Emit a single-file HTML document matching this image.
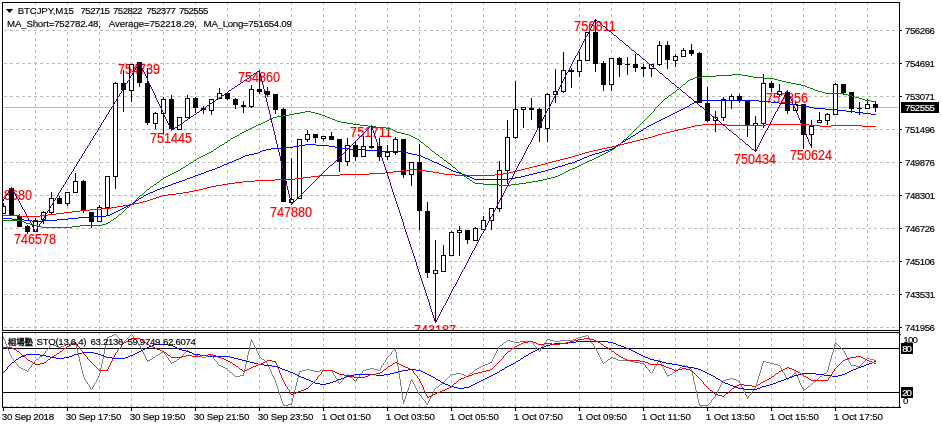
<!DOCTYPE html>
<html><head><meta charset="utf-8"><title>BTCJPY,M15</title>
<style>html,body{margin:0;padding:0;background:#fff;overflow:hidden}svg{display:block}</style>
</head><body>
<svg width="942" height="428" viewBox="0 0 942 428">
<defs><clipPath id="cm"><rect x="3" y="3" width="896" height="327"/></clipPath><clipPath id="ci"><rect x="3" y="333" width="896" height="74"/></clipPath></defs>
<rect width="942" height="428" fill="#fff"/>
<g shape-rendering="crispEdges" stroke="#bcbcbc" stroke-width="1" fill="none">
<line x1="35.5" y1="2" x2="35.5" y2="330" stroke-dasharray="3 3"/>
<line x1="35.5" y1="332" x2="35.5" y2="407" stroke-dasharray="3 3"/>
<line x1="67.5" y1="2" x2="67.5" y2="330" stroke-dasharray="3 3"/>
<line x1="67.5" y1="332" x2="67.5" y2="407" stroke-dasharray="3 3"/>
<line x1="99.5" y1="2" x2="99.5" y2="330" stroke-dasharray="3 3"/>
<line x1="99.5" y1="332" x2="99.5" y2="407" stroke-dasharray="3 3"/>
<line x1="131.5" y1="2" x2="131.5" y2="330" stroke-dasharray="3 3"/>
<line x1="131.5" y1="332" x2="131.5" y2="407" stroke-dasharray="3 3"/>
<line x1="163.5" y1="2" x2="163.5" y2="330" stroke-dasharray="3 3"/>
<line x1="163.5" y1="332" x2="163.5" y2="407" stroke-dasharray="3 3"/>
<line x1="195.5" y1="2" x2="195.5" y2="330" stroke-dasharray="3 3"/>
<line x1="195.5" y1="332" x2="195.5" y2="407" stroke-dasharray="3 3"/>
<line x1="227.5" y1="2" x2="227.5" y2="330" stroke-dasharray="3 3"/>
<line x1="227.5" y1="332" x2="227.5" y2="407" stroke-dasharray="3 3"/>
<line x1="259.5" y1="2" x2="259.5" y2="330" stroke-dasharray="3 3"/>
<line x1="259.5" y1="332" x2="259.5" y2="407" stroke-dasharray="3 3"/>
<line x1="291.5" y1="2" x2="291.5" y2="330" stroke-dasharray="3 3"/>
<line x1="291.5" y1="332" x2="291.5" y2="407" stroke-dasharray="3 3"/>
<line x1="323.5" y1="2" x2="323.5" y2="330" stroke-dasharray="3 3"/>
<line x1="323.5" y1="332" x2="323.5" y2="407" stroke-dasharray="3 3"/>
<line x1="355.5" y1="2" x2="355.5" y2="330" stroke-dasharray="3 3"/>
<line x1="355.5" y1="332" x2="355.5" y2="407" stroke-dasharray="3 3"/>
<line x1="387.5" y1="2" x2="387.5" y2="330" stroke-dasharray="3 3"/>
<line x1="387.5" y1="332" x2="387.5" y2="407" stroke-dasharray="3 3"/>
<line x1="419.5" y1="2" x2="419.5" y2="330" stroke-dasharray="3 3"/>
<line x1="419.5" y1="332" x2="419.5" y2="407" stroke-dasharray="3 3"/>
<line x1="451.5" y1="2" x2="451.5" y2="330" stroke-dasharray="3 3"/>
<line x1="451.5" y1="332" x2="451.5" y2="407" stroke-dasharray="3 3"/>
<line x1="483.5" y1="2" x2="483.5" y2="330" stroke-dasharray="3 3"/>
<line x1="483.5" y1="332" x2="483.5" y2="407" stroke-dasharray="3 3"/>
<line x1="515.5" y1="2" x2="515.5" y2="330" stroke-dasharray="3 3"/>
<line x1="515.5" y1="332" x2="515.5" y2="407" stroke-dasharray="3 3"/>
<line x1="547.5" y1="2" x2="547.5" y2="330" stroke-dasharray="3 3"/>
<line x1="547.5" y1="332" x2="547.5" y2="407" stroke-dasharray="3 3"/>
<line x1="579.5" y1="2" x2="579.5" y2="330" stroke-dasharray="3 3"/>
<line x1="579.5" y1="332" x2="579.5" y2="407" stroke-dasharray="3 3"/>
<line x1="611.5" y1="2" x2="611.5" y2="330" stroke-dasharray="3 3"/>
<line x1="611.5" y1="332" x2="611.5" y2="407" stroke-dasharray="3 3"/>
<line x1="643.5" y1="2" x2="643.5" y2="330" stroke-dasharray="3 3"/>
<line x1="643.5" y1="332" x2="643.5" y2="407" stroke-dasharray="3 3"/>
<line x1="675.5" y1="2" x2="675.5" y2="330" stroke-dasharray="3 3"/>
<line x1="675.5" y1="332" x2="675.5" y2="407" stroke-dasharray="3 3"/>
<line x1="707.5" y1="2" x2="707.5" y2="330" stroke-dasharray="3 3"/>
<line x1="707.5" y1="332" x2="707.5" y2="407" stroke-dasharray="3 3"/>
<line x1="739.5" y1="2" x2="739.5" y2="330" stroke-dasharray="3 3"/>
<line x1="739.5" y1="332" x2="739.5" y2="407" stroke-dasharray="3 3"/>
<line x1="771.5" y1="2" x2="771.5" y2="330" stroke-dasharray="3 3"/>
<line x1="771.5" y1="332" x2="771.5" y2="407" stroke-dasharray="3 3"/>
<line x1="803.5" y1="2" x2="803.5" y2="330" stroke-dasharray="3 3"/>
<line x1="803.5" y1="332" x2="803.5" y2="407" stroke-dasharray="3 3"/>
<line x1="835.5" y1="2" x2="835.5" y2="330" stroke-dasharray="3 3"/>
<line x1="835.5" y1="332" x2="835.5" y2="407" stroke-dasharray="3 3"/>
<line x1="867.5" y1="2" x2="867.5" y2="330" stroke-dasharray="3 3"/>
<line x1="867.5" y1="332" x2="867.5" y2="407" stroke-dasharray="3 3"/>
<line x1="4" y1="30.5" x2="897" y2="30.5" stroke-dasharray="3 3"/>
<line x1="4" y1="63.5" x2="897" y2="63.5" stroke-dasharray="3 3"/>
<line x1="4" y1="96.5" x2="897" y2="96.5" stroke-dasharray="3 3"/>
<line x1="4" y1="129.5" x2="897" y2="129.5" stroke-dasharray="3 3"/>
<line x1="4" y1="162.5" x2="897" y2="162.5" stroke-dasharray="3 3"/>
<line x1="4" y1="195.5" x2="897" y2="195.5" stroke-dasharray="3 3"/>
<line x1="4" y1="228.5" x2="897" y2="228.5" stroke-dasharray="3 3"/>
<line x1="4" y1="261.5" x2="897" y2="261.5" stroke-dasharray="3 3"/>
<line x1="4" y1="294.5" x2="897" y2="294.5" stroke-dasharray="3 3"/>
<line x1="4" y1="327.5" x2="897" y2="327.5" stroke-dasharray="3 3"/>
<line x1="4" y1="406.5" x2="899" y2="406.5" stroke-dasharray="3 3"/>
</g>
<rect x="3" y="107" width="896" height="1" fill="#c0c0c0" shape-rendering="crispEdges"/>
<g clip-path="url(#cm)">
<g shape-rendering="crispEdges">
<rect x="3" y="203" width="1" height="11" fill="#000"/>
<rect x="1" y="206" width="5" height="8" fill="#000"/>
<rect x="2" y="207" width="3" height="6" fill="#fff"/>
<rect x="11" y="187" width="1" height="28" fill="#000"/>
<rect x="9" y="188" width="5" height="27" fill="#000"/>
<rect x="19" y="214" width="1" height="13" fill="#000"/>
<rect x="17" y="216" width="5" height="11" fill="#000"/>
<rect x="27" y="225" width="1" height="9" fill="#000"/>
<rect x="25" y="226" width="5" height="6" fill="#000"/>
<rect x="35" y="218" width="1" height="14" fill="#000"/>
<rect x="33" y="220" width="5" height="12" fill="#000"/>
<rect x="34" y="221" width="3" height="10" fill="#fff"/>
<rect x="43" y="211" width="1" height="13" fill="#000"/>
<rect x="41" y="212" width="5" height="8" fill="#000"/>
<rect x="42" y="213" width="3" height="6" fill="#fff"/>
<rect x="51" y="192" width="1" height="22" fill="#000"/>
<rect x="49" y="198" width="5" height="15" fill="#000"/>
<rect x="50" y="199" width="3" height="13" fill="#fff"/>
<rect x="59" y="196" width="1" height="8" fill="#000"/>
<rect x="57" y="198" width="5" height="6" fill="#000"/>
<rect x="67" y="192" width="1" height="14" fill="#000"/>
<rect x="65" y="192" width="5" height="12" fill="#000"/>
<rect x="66" y="193" width="3" height="10" fill="#fff"/>
<rect x="75" y="173" width="1" height="20" fill="#000"/>
<rect x="73" y="181" width="5" height="12" fill="#000"/>
<rect x="74" y="182" width="3" height="10" fill="#fff"/>
<rect x="83" y="180" width="1" height="33" fill="#000"/>
<rect x="81" y="181" width="5" height="30" fill="#000"/>
<rect x="91" y="212" width="1" height="16" fill="#000"/>
<rect x="89" y="212" width="5" height="10" fill="#000"/>
<rect x="99" y="205" width="1" height="17" fill="#000"/>
<rect x="97" y="207" width="5" height="15" fill="#000"/>
<rect x="98" y="208" width="3" height="13" fill="#fff"/>
<rect x="107" y="176" width="1" height="40" fill="#000"/>
<rect x="105" y="176" width="5" height="32" fill="#000"/>
<rect x="106" y="177" width="3" height="30" fill="#fff"/>
<rect x="115" y="82" width="1" height="107" fill="#000"/>
<rect x="113" y="83" width="5" height="94" fill="#000"/>
<rect x="114" y="84" width="3" height="92" fill="#fff"/>
<rect x="123" y="70" width="1" height="42" fill="#000"/>
<rect x="121" y="83" width="5" height="7" fill="#000"/>
<rect x="131" y="64" width="1" height="38" fill="#000"/>
<rect x="129" y="64" width="5" height="27" fill="#000"/>
<rect x="130" y="65" width="3" height="25" fill="#fff"/>
<rect x="139" y="62" width="1" height="25" fill="#000"/>
<rect x="137" y="62" width="5" height="21" fill="#000"/>
<rect x="147" y="68" width="1" height="57" fill="#000"/>
<rect x="145" y="83" width="5" height="40" fill="#000"/>
<rect x="155" y="112" width="1" height="17" fill="#000"/>
<rect x="153" y="113" width="5" height="11" fill="#000"/>
<rect x="154" y="114" width="3" height="9" fill="#fff"/>
<rect x="163" y="97" width="1" height="37" fill="#000"/>
<rect x="161" y="99" width="5" height="15" fill="#000"/>
<rect x="162" y="100" width="3" height="13" fill="#fff"/>
<rect x="171" y="95" width="1" height="35" fill="#000"/>
<rect x="169" y="99" width="5" height="30" fill="#000"/>
<rect x="179" y="117" width="1" height="13" fill="#000"/>
<rect x="177" y="117" width="5" height="13" fill="#000"/>
<rect x="178" y="118" width="3" height="11" fill="#fff"/>
<rect x="187" y="95" width="1" height="23" fill="#000"/>
<rect x="185" y="98" width="5" height="20" fill="#000"/>
<rect x="186" y="99" width="3" height="18" fill="#fff"/>
<rect x="195" y="97" width="1" height="16" fill="#000"/>
<rect x="193" y="98" width="5" height="10" fill="#000"/>
<rect x="203" y="106" width="1" height="8" fill="#000"/>
<rect x="201" y="108" width="5" height="2" fill="#000"/>
<rect x="211" y="99" width="1" height="16" fill="#000"/>
<rect x="209" y="99" width="5" height="12" fill="#000"/>
<rect x="210" y="100" width="3" height="10" fill="#fff"/>
<rect x="219" y="88" width="1" height="11" fill="#000"/>
<rect x="217" y="93" width="5" height="6" fill="#000"/>
<rect x="218" y="94" width="3" height="4" fill="#fff"/>
<rect x="227" y="92" width="1" height="8" fill="#000"/>
<rect x="225" y="93" width="5" height="6" fill="#000"/>
<rect x="235" y="98" width="1" height="11" fill="#000"/>
<rect x="233" y="99" width="5" height="6" fill="#000"/>
<rect x="243" y="101" width="1" height="12" fill="#000"/>
<rect x="241" y="105" width="5" height="2" fill="#000"/>
<rect x="251" y="85" width="1" height="23" fill="#000"/>
<rect x="249" y="89" width="5" height="18" fill="#000"/>
<rect x="250" y="90" width="3" height="16" fill="#fff"/>
<rect x="259" y="70" width="1" height="24" fill="#000"/>
<rect x="257" y="89" width="5" height="3" fill="#000"/>
<rect x="267" y="87" width="1" height="10" fill="#000"/>
<rect x="265" y="91" width="5" height="4" fill="#000"/>
<rect x="275" y="94" width="1" height="20" fill="#000"/>
<rect x="273" y="94" width="5" height="16" fill="#000"/>
<rect x="283" y="108" width="1" height="94" fill="#000"/>
<rect x="281" y="109" width="5" height="93" fill="#000"/>
<rect x="291" y="158" width="1" height="46" fill="#000"/>
<rect x="289" y="199" width="5" height="4" fill="#000"/>
<rect x="290" y="200" width="3" height="2" fill="#fff"/>
<rect x="299" y="139" width="1" height="60" fill="#000"/>
<rect x="297" y="139" width="5" height="60" fill="#000"/>
<rect x="298" y="140" width="3" height="58" fill="#fff"/>
<rect x="307" y="130" width="1" height="12" fill="#000"/>
<rect x="305" y="134" width="5" height="6" fill="#000"/>
<rect x="306" y="135" width="3" height="4" fill="#fff"/>
<rect x="315" y="134" width="1" height="9" fill="#000"/>
<rect x="313" y="134" width="5" height="4" fill="#000"/>
<rect x="323" y="136" width="1" height="5" fill="#000"/>
<rect x="321" y="136" width="5" height="3" fill="#000"/>
<rect x="322" y="137" width="3" height="1" fill="#fff"/>
<rect x="331" y="132" width="1" height="8" fill="#000"/>
<rect x="329" y="136" width="5" height="4" fill="#000"/>
<rect x="339" y="139" width="1" height="33" fill="#000"/>
<rect x="337" y="139" width="5" height="23" fill="#000"/>
<rect x="347" y="138" width="1" height="28" fill="#000"/>
<rect x="345" y="145" width="5" height="17" fill="#000"/>
<rect x="346" y="146" width="3" height="15" fill="#fff"/>
<rect x="355" y="141" width="1" height="20" fill="#000"/>
<rect x="353" y="145" width="5" height="12" fill="#000"/>
<rect x="363" y="136" width="1" height="21" fill="#000"/>
<rect x="361" y="146" width="5" height="11" fill="#000"/>
<rect x="362" y="147" width="3" height="9" fill="#fff"/>
<rect x="371" y="125" width="1" height="24" fill="#000"/>
<rect x="369" y="146" width="5" height="2" fill="#000"/>
<rect x="379" y="138" width="1" height="23" fill="#000"/>
<rect x="377" y="146" width="5" height="11" fill="#000"/>
<rect x="387" y="145" width="1" height="15" fill="#000"/>
<rect x="385" y="152" width="5" height="5" fill="#000"/>
<rect x="386" y="153" width="3" height="3" fill="#fff"/>
<rect x="395" y="137" width="1" height="18" fill="#000"/>
<rect x="393" y="139" width="5" height="14" fill="#000"/>
<rect x="394" y="140" width="3" height="12" fill="#fff"/>
<rect x="403" y="139" width="1" height="39" fill="#000"/>
<rect x="401" y="139" width="5" height="36" fill="#000"/>
<rect x="411" y="162" width="1" height="24" fill="#000"/>
<rect x="409" y="162" width="5" height="13" fill="#000"/>
<rect x="410" y="163" width="3" height="11" fill="#fff"/>
<rect x="419" y="144" width="1" height="86" fill="#000"/>
<rect x="417" y="162" width="5" height="49" fill="#000"/>
<rect x="427" y="202" width="1" height="76" fill="#000"/>
<rect x="425" y="211" width="5" height="62" fill="#000"/>
<rect x="435" y="240" width="1" height="82" fill="#000"/>
<rect x="433" y="270" width="5" height="4" fill="#000"/>
<rect x="434" y="271" width="3" height="2" fill="#fff"/>
<rect x="443" y="245" width="1" height="27" fill="#000"/>
<rect x="441" y="255" width="5" height="17" fill="#000"/>
<rect x="442" y="256" width="3" height="15" fill="#fff"/>
<rect x="451" y="231" width="1" height="25" fill="#000"/>
<rect x="449" y="232" width="5" height="24" fill="#000"/>
<rect x="450" y="233" width="3" height="22" fill="#fff"/>
<rect x="459" y="226" width="1" height="30" fill="#000"/>
<rect x="457" y="230" width="5" height="3" fill="#000"/>
<rect x="458" y="231" width="3" height="1" fill="#fff"/>
<rect x="467" y="230" width="1" height="14" fill="#000"/>
<rect x="465" y="230" width="5" height="10" fill="#000"/>
<rect x="475" y="227" width="1" height="14" fill="#000"/>
<rect x="473" y="228" width="5" height="13" fill="#000"/>
<rect x="474" y="229" width="3" height="11" fill="#fff"/>
<rect x="483" y="216" width="1" height="14" fill="#000"/>
<rect x="481" y="220" width="5" height="10" fill="#000"/>
<rect x="482" y="221" width="3" height="8" fill="#fff"/>
<rect x="491" y="208" width="1" height="22" fill="#000"/>
<rect x="489" y="208" width="5" height="13" fill="#000"/>
<rect x="490" y="209" width="3" height="11" fill="#fff"/>
<rect x="499" y="161" width="1" height="51" fill="#000"/>
<rect x="497" y="170" width="5" height="39" fill="#000"/>
<rect x="498" y="171" width="3" height="37" fill="#fff"/>
<rect x="507" y="120" width="1" height="64" fill="#000"/>
<rect x="505" y="137" width="5" height="34" fill="#000"/>
<rect x="506" y="138" width="3" height="32" fill="#fff"/>
<rect x="515" y="81" width="1" height="58" fill="#000"/>
<rect x="513" y="109" width="5" height="29" fill="#000"/>
<rect x="514" y="110" width="3" height="27" fill="#fff"/>
<rect x="523" y="107" width="1" height="21" fill="#000"/>
<rect x="521" y="107" width="5" height="3" fill="#000"/>
<rect x="522" y="108" width="3" height="1" fill="#fff"/>
<rect x="531" y="98" width="1" height="22" fill="#000"/>
<rect x="529" y="108" width="5" height="2" fill="#000"/>
<rect x="539" y="108" width="1" height="34" fill="#000"/>
<rect x="537" y="109" width="5" height="19" fill="#000"/>
<rect x="547" y="93" width="1" height="49" fill="#000"/>
<rect x="545" y="94" width="5" height="35" fill="#000"/>
<rect x="546" y="95" width="3" height="33" fill="#fff"/>
<rect x="555" y="69" width="1" height="34" fill="#000"/>
<rect x="553" y="91" width="5" height="4" fill="#000"/>
<rect x="554" y="92" width="3" height="2" fill="#fff"/>
<rect x="563" y="52" width="1" height="41" fill="#000"/>
<rect x="561" y="70" width="5" height="22" fill="#000"/>
<rect x="562" y="71" width="3" height="20" fill="#fff"/>
<rect x="571" y="68" width="1" height="20" fill="#000"/>
<rect x="569" y="70" width="5" height="2" fill="#000"/>
<rect x="579" y="52" width="1" height="25" fill="#000"/>
<rect x="577" y="60" width="5" height="12" fill="#000"/>
<rect x="578" y="61" width="3" height="10" fill="#fff"/>
<rect x="587" y="32" width="1" height="29" fill="#000"/>
<rect x="585" y="32" width="5" height="29" fill="#000"/>
<rect x="586" y="33" width="3" height="27" fill="#fff"/>
<rect x="595" y="19" width="1" height="53" fill="#000"/>
<rect x="593" y="32" width="5" height="32" fill="#000"/>
<rect x="603" y="61" width="1" height="30" fill="#000"/>
<rect x="601" y="63" width="5" height="22" fill="#000"/>
<rect x="611" y="58" width="1" height="33" fill="#000"/>
<rect x="609" y="58" width="5" height="27" fill="#000"/>
<rect x="610" y="59" width="3" height="25" fill="#fff"/>
<rect x="619" y="57" width="1" height="20" fill="#000"/>
<rect x="617" y="58" width="5" height="7" fill="#000"/>
<rect x="627" y="57" width="1" height="18" fill="#000"/>
<rect x="625" y="64" width="5" height="1" fill="#000"/>
<rect x="635" y="54" width="1" height="18" fill="#000"/>
<rect x="633" y="64" width="5" height="4" fill="#000"/>
<rect x="643" y="64" width="1" height="13" fill="#000"/>
<rect x="641" y="67" width="5" height="2" fill="#000"/>
<rect x="651" y="64" width="1" height="13" fill="#000"/>
<rect x="649" y="64" width="5" height="5" fill="#000"/>
<rect x="650" y="65" width="3" height="3" fill="#fff"/>
<rect x="659" y="41" width="1" height="25" fill="#000"/>
<rect x="657" y="45" width="5" height="20" fill="#000"/>
<rect x="658" y="46" width="3" height="18" fill="#fff"/>
<rect x="667" y="41" width="1" height="28" fill="#000"/>
<rect x="665" y="45" width="5" height="15" fill="#000"/>
<rect x="675" y="54" width="1" height="13" fill="#000"/>
<rect x="673" y="56" width="5" height="5" fill="#000"/>
<rect x="674" y="57" width="3" height="3" fill="#fff"/>
<rect x="683" y="48" width="1" height="9" fill="#000"/>
<rect x="681" y="50" width="5" height="7" fill="#000"/>
<rect x="682" y="51" width="3" height="5" fill="#fff"/>
<rect x="691" y="44" width="1" height="12" fill="#000"/>
<rect x="689" y="50" width="5" height="4" fill="#000"/>
<rect x="699" y="52" width="1" height="51" fill="#000"/>
<rect x="697" y="53" width="5" height="50" fill="#000"/>
<rect x="707" y="87" width="1" height="35" fill="#000"/>
<rect x="705" y="103" width="5" height="18" fill="#000"/>
<rect x="715" y="111" width="1" height="21" fill="#000"/>
<rect x="713" y="117" width="5" height="4" fill="#000"/>
<rect x="714" y="118" width="3" height="2" fill="#fff"/>
<rect x="723" y="97" width="1" height="24" fill="#000"/>
<rect x="721" y="99" width="5" height="19" fill="#000"/>
<rect x="722" y="100" width="3" height="17" fill="#fff"/>
<rect x="731" y="94" width="1" height="15" fill="#000"/>
<rect x="729" y="96" width="5" height="5" fill="#000"/>
<rect x="730" y="97" width="3" height="3" fill="#fff"/>
<rect x="739" y="94" width="1" height="9" fill="#000"/>
<rect x="737" y="96" width="5" height="5" fill="#000"/>
<rect x="747" y="100" width="1" height="37" fill="#000"/>
<rect x="745" y="100" width="5" height="25" fill="#000"/>
<rect x="755" y="116" width="1" height="36" fill="#000"/>
<rect x="753" y="123" width="5" height="3" fill="#000"/>
<rect x="754" y="124" width="3" height="1" fill="#fff"/>
<rect x="763" y="74" width="1" height="54" fill="#000"/>
<rect x="761" y="83" width="5" height="41" fill="#000"/>
<rect x="762" y="84" width="3" height="39" fill="#fff"/>
<rect x="771" y="81" width="1" height="11" fill="#000"/>
<rect x="769" y="83" width="5" height="5" fill="#000"/>
<rect x="779" y="84" width="1" height="13" fill="#000"/>
<rect x="777" y="91" width="5" height="4" fill="#000"/>
<rect x="778" y="92" width="3" height="2" fill="#fff"/>
<rect x="787" y="91" width="1" height="23" fill="#000"/>
<rect x="785" y="92" width="5" height="19" fill="#000"/>
<rect x="795" y="102" width="1" height="9" fill="#000"/>
<rect x="793" y="104" width="5" height="7" fill="#000"/>
<rect x="794" y="105" width="3" height="5" fill="#fff"/>
<rect x="803" y="104" width="1" height="45" fill="#000"/>
<rect x="801" y="104" width="5" height="31" fill="#000"/>
<rect x="811" y="120" width="1" height="28" fill="#000"/>
<rect x="809" y="126" width="5" height="9" fill="#000"/>
<rect x="810" y="127" width="3" height="7" fill="#fff"/>
<rect x="819" y="112" width="1" height="11" fill="#000"/>
<rect x="817" y="120" width="5" height="3" fill="#000"/>
<rect x="818" y="121" width="3" height="1" fill="#fff"/>
<rect x="827" y="113" width="1" height="12" fill="#000"/>
<rect x="825" y="114" width="5" height="7" fill="#000"/>
<rect x="826" y="115" width="3" height="5" fill="#fff"/>
<rect x="835" y="83" width="1" height="32" fill="#000"/>
<rect x="833" y="84" width="5" height="31" fill="#000"/>
<rect x="834" y="85" width="3" height="29" fill="#fff"/>
<rect x="843" y="84" width="1" height="10" fill="#000"/>
<rect x="841" y="84" width="5" height="9" fill="#000"/>
<rect x="851" y="92" width="1" height="21" fill="#000"/>
<rect x="849" y="92" width="5" height="17" fill="#000"/>
<rect x="859" y="102" width="1" height="13" fill="#000"/>
<rect x="857" y="108" width="5" height="1" fill="#000"/>
<rect x="867" y="99" width="1" height="10" fill="#000"/>
<rect x="865" y="104" width="5" height="5" fill="#000"/>
<rect x="866" y="105" width="3" height="3" fill="#fff"/>
<rect x="875" y="101" width="1" height="11" fill="#000"/>
<rect x="873" y="104" width="5" height="4" fill="#000"/>
</g>
<g font-family="'Liberation Sans', Arial, sans-serif" font-size="13.8px" fill="#ff0000" stroke="#ff0000" stroke-width="0.2" text-anchor="middle" style="mix-blend-mode:multiply">
<text x="11" y="199.9" textLength="42" lengthAdjust="spacingAndGlyphs">748680</text>
<text x="35" y="243.9" textLength="42" lengthAdjust="spacingAndGlyphs">746578</text>
<text x="139" y="73.9" textLength="42" lengthAdjust="spacingAndGlyphs">754739</text>
<text x="171" y="142.9" textLength="42" lengthAdjust="spacingAndGlyphs">751445</text>
<text x="259" y="81.9" textLength="42" lengthAdjust="spacingAndGlyphs">754860</text>
<text x="291" y="216.9" textLength="42" lengthAdjust="spacingAndGlyphs">747880</text>
<text x="371" y="136.9" textLength="42" lengthAdjust="spacingAndGlyphs">751711</text>
<text x="435" y="334.9" textLength="42" lengthAdjust="spacingAndGlyphs">743187</text>
<text x="595" y="30.9" textLength="42" lengthAdjust="spacingAndGlyphs">756811</text>
<text x="755" y="163.9" textLength="42" lengthAdjust="spacingAndGlyphs">750434</text>
<text x="787" y="102.9" textLength="42" lengthAdjust="spacingAndGlyphs">752856</text>
<text x="811" y="159.9" textLength="42" lengthAdjust="spacingAndGlyphs">750624</text>
</g>
<path d="M168 194h8M678 129h5M303 177h8M695 125h7M727 125h39M809 125h11M831 125h31M691 126h4M820 126h11M862 126h14M255 180h20M20 216h20M48 214h8M702 124h25M766 124h43M385 172h8M433 172h6M509 172h4M111 207h6M319 175h21M455 175h40M537 165h4M80 210h10M598 149h4M662 133h4M579 154h3M159 196h3M401 170h8M418 170h8M517 170h4M275 179h20M369 173h16M439 173h5M503 173h6M612 146h4M393 171h8M426 171h7M513 171h4M624 143h4M194 190h5M687 127h4M64 212h8M72 211h8M340 174h29M444 174h11M495 174h8M90 209h12M3 215h17M40 215h8M123 205h6M607 147h5M585 152h4M56 213h8M129 204h5M203 188h4M674 130h4M295 178h8M243 181h12M525 168h4M593 150h5M564 158h4M575 155h4M228 183h7M683 128h4M189 191h5M652 136h3M632 141h4M134 203h5M117 206h6M409 169h9M521 169h4M311 176h8M235 182h8M640 139h4M143 201h4M216 185h6M620 144h4M545 163h3M222 184h6M648 137h4M628 142h4M176 193h7M552 161h4M533 166h4M102 208h9M156 197h3M602 148h5M658 134h4M541 164h4M162 195h6M666 132h4M548 162h4M529 167h4M589 151h4M572 156h3M636 140h4M616 145h4M183 192h6M211 186h5M560 159h4M139 202h4M199 189h4M147 200h3M655 135h3M207 187h4M568 157h4M556 160h4M644 138h4M582 153h3M670 131h4M153 198h3M150 199h3" transform="translate(0 .5)" stroke="#ff0000" fill="none" shape-rendering="crispEdges"/>
<path d="M245 155h4M417 155h4M589 155h3M699 100h60M271 148h11M339 148h10M612 148h2M155 190h2M215 168h2M447 168h2M552 168h3M224 164h3M439 164h2M565 164h3M201 173h3M459 173h3M533 173h4M262 150h4M365 150h12M605 150h4M209 170h3M451 170h2M545 170h3M3 218h9M68 218h10M220 166h2M443 166h2M558 166h4M305 144h11M618 144h2M671 114h2M871 114h5M266 149h5M349 149h16M609 149h3M182 180h3M260 151h2M377 151h26M602 151h3M249 154h5M412 154h5M592 154h3M796 105h7M94 216h12M623 141h2M626 139h2M690 104h2M788 104h8M206 171h3M453 171h3M541 171h4M229 162h3M434 162h3M572 162h3M657 121h2M299 145h6M316 145h13M185 179h2M474 179h35M236 159h3M428 159h2M580 159h2M685 107h2M809 107h5M696 101h3M759 101h12M78 217h16M653 123h2M258 152h2M403 152h5M599 152h3M222 165h2M441 165h2M562 165h3M198 174h3M462 174h3M529 174h4M282 147h11M335 147h4M614 147h2M661 119h2M126 206h2M130 204h2M212 169h3M449 169h2M548 169h4M683 108h2M814 108h11M12 219h12M57 219h11M173 183h3M681 109h2M825 109h13M227 163h2M437 163h2M568 163h4M677 111h2M846 111h9M293 146h6M329 146h6M187 178h3M472 178h2M509 178h6M204 172h2M456 172h3M537 172h4M32 221h12M241 157h2M423 157h2M584 157h3M675 112h2M855 112h8M157 189h3M243 156h2M421 156h2M587 156h2M631 136h2M190 177h3M470 177h2M515 177h6M24 220h8M44 220h13M673 113h2M863 113h8M694 102h2M771 102h8M106 215h4M644 128h2M153 191h2M636 133h2M628 138h2M254 153h4M408 153h4M595 153h4M649 125h2M692 103h2M779 103h9M217 167h3M445 167h2M555 167h3M193 176h2M467 176h3M521 176h4M641 130h2M122 208h2M168 185h3M118 210h2M667 116h2M679 110h2M838 110h8M179 181h3M148 193h2M687 106h2M803 106h6M633 135h2M114 212h2M663 118h2M195 175h3M465 175h2M525 175h4M160 188h2M659 120h2M232 161h2M432 161h2M575 161h2M132 203h2M144 195h2M136 200h2M621 142h2M651 124h2M110 214h2M655 122h2M171 184h2M120 209h2M128 205h2M141 197h2M234 160h2M430 160h2M577 160h3M124 207h2M176 182h3M146 194h2M239 158h2M425 158h3M582 158h2M647 126h2M639 131h2M150 192h3M165 186h3M116 211h2M139 198h2M162 187h3M112 213h2M669 115h2M665 117h2" transform="translate(0 .5)" stroke="#0000ff" fill="none" shape-rendering="crispEdges"/><path d="M135 201v1M643 129v1M134 202v1M638 132v1M689 105v1M635 134v1M617 145v1M138 199v1M630 137v1M646 127v1M625 140v1M143 196v1M620 143v1M616 146v1" transform="translate(.5 0)" stroke="#0000ff" fill="none" shape-rendering="crispEdges"/>
<path d="M225 142h2M421 142h2M164 177h2M551 177h4M289 114h5M319 114h3M693 78h2M764 78h10M209 152h2M606 152h2M267 120h2M335 120h2M683 84h2M796 84h5M30 224h4M102 224h4M242 132h2M397 132h4M688 80h2M778 80h4M475 183h8M519 183h7M499 185h12M716 75h16M742 75h6M42 227h30M222 144h2M127 207h2M273 117h4M327 117h3M248 129h2M391 129h2M235 136h2M411 136h2M205 154h2M436 154h2M602 154h2M277 116h6M325 116h2M34 225h4M80 225h22M178 170h2M568 170h2M665 98h2M859 98h3M161 179h2M543 179h4M157 182h2M473 182h2M526 182h6M154 184h2M483 184h16M511 184h8M470 180h2M538 180h5M254 126h2M368 126h8M695 77h7M753 77h11M825 93h18M265 121h2M337 121h4M166 176h2M464 176h2M555 176h3M3 220h18M111 220h2M801 85h4M673 92h2M822 92h3M186 165h2M579 165h2M732 74h10M871 101h5M532 181h6M170 174h2M560 174h2M587 161h2M300 112h5M311 112h4M21 221h3M211 151h2M432 151h2M608 151h2M258 124h3M353 124h7M467 178h2M547 178h4M240 133h2M401 133h4M782 81h4M855 97h4M269 119h2M332 119h3M24 222h2M108 222h2M189 163h2M448 163h2M583 163h2M231 138h2M415 138h2M174 172h2M459 172h2M564 172h2M577 166h2M405 134h4M786 82h5M176 171h2M566 171h2M26 223h4M106 223h2M426 146h2M616 146h2M283 115h6M322 115h3M305 111h6M201 156h2M598 156h2M114 218h2M252 127h2M376 127h10M38 226h4M72 226h8M865 100h6M191 162h2M585 162h2M417 139h2M624 139h2M807 87h3M237 135h2M409 135h2M183 167h2M453 167h2M575 167h2M810 88h3M843 94h5M168 175h2M558 175h2M263 122h2M341 122h6M677 89h2M813 89h2M791 83h5M862 99h3M256 125h2M360 125h8M244 131h2M395 131h2M233 137h2M413 137h2M250 128h2M386 128h5M181 168h2M572 168h3M805 86h2M172 173h2M562 173h2M207 153h2M604 153h2M294 113h6M315 113h4M197 158h2M594 158h2M203 155h2M600 155h2M570 169h2M815 90h3M702 76h14M748 76h5M261 123h2M347 123h6M818 91h4M246 130h2M393 130h2M581 164h2M194 160h2M444 160h2M589 160h3M690 79h3M774 79h4M199 157h2M440 157h2M596 157h2M669 95h2M848 95h4M217 147h2M852 96h3M214 149h2M612 149h2M271 118h2M330 118h2M147 189h2M151 186h2M140 195h2M592 159h2M228 140h2M220 145h2M119 214h2M610 150h2" transform="translate(0 .5)" stroke="#008000" fill="none" shape-rendering="crispEdges"/><path d="M121 213v1M650 114v1M621 142v1M622 141v1M627 137v1M216 148v1M428 147v1M619 144v1M110 221v1M620 143v1M429 148v1M150 187v1M685 83v1M227 141v1M647 117v1M443 159v1M163 178v1M638 126v1M645 119v1M646 118v1M664 99v1M430 149v1M153 185v1M423 143v1M636 128v1M142 194v1M644 120v1M451 165v1M662 101v1M663 100v1M462 174v1M668 96v1M156 183v1M469 179v1M661 102v1M667 97v1M635 129v1M438 155v1M133 202v1M626 138v1M134 201v1M193 161v1M634 130v1M185 166v1M660 103v1M126 208v1M131 204v1M132 203v1M632 132v1M219 146v1M614 148v1M658 105v1M654 109v2M618 145v1M118 215v1M447 162v1M653 111v1M113 219v1M424 144v1M435 153v1M682 85v1M687 81v1M463 175v1M671 94v1M456 169v1M672 93v1M642 122v1M425 145v1M160 180v1M686 82v1M633 131v1M439 156v1M640 124v1M675 91v1M641 123v1M659 104v1M446 161v1M139 196v1M457 170v1M657 106v1M419 140v1M124 210v1M458 171v1M125 209v1M130 205v1M630 134v1M196 159v1M122 212v1M123 211v1M434 152v1M623 140v1M628 136v1M230 139v1M629 135v1M213 150v1M452 166v1M643 121v1M116 217v1M651 113v1M455 168v1M466 177v1M676 90v1M681 86v1M649 115v1M615 147v1M224 143v1M239 134v1M159 181v1M442 158v1M145 191v1M146 190v1M680 87v1M648 116v1M143 193v1M144 192v1M149 188v1M679 88v1M138 197v1M631 133v1M639 125v1M450 164v1M188 164v1M461 173v1M129 206v1M180 169v1M136 199v1M420 141v1M137 198v1M637 127v1M431 150v1M655 108v1M656 107v1M135 200v1M117 216v1M652 112v1M472 181v1" transform="translate(.5 0)" stroke="#008000" fill="none" shape-rendering="crispEdges"/>
<path d="M175 127h2M734 134h2M171 129h3M194 114h2M232 88h2M188 118h2M632 50h2M235 86h2M207 105h2M222 95h2M197 112h2M729 130h2M138 63h2M244 80h2M706 111h2M185 120h2M717 120h2M213 101h2M694 101h2M752 149h2M672 83h2M178 125h2M723 125h2M191 116h2M712 116h2M247 78h2M666 78h2M219 97h2M689 97h2M181 123h2M203 108h2M746 144h2M683 92h2M241 82h2M740 139h2M330 165h2M254 73h2M660 73h2M238 84h2M700 106h2M637 54h2M229 90h2M643 59h2M654 68h2M210 103h2M291 203h2M614 35h2M370 126h2M257 71h3M649 64h2M677 87h2M225 93h2M251 75h2M216 99h2M200 110h2M609 31h2M786 91h2M597 21h2M435 321h2M603 26h2M626 45h2M620 40h2" transform="translate(0 .5)" stroke="#4b0082" fill="none" shape-rendering="crispEdges"/><path d="M284 173v4M524 153v2M99 127v1M39 224v2M575 56v2M507 185v2M451 291v2M127 81v2M170 127v2M95 133v2M432 312v3M503 193v2M710 114v1M783 97v2M123 88v1M277 144v4M418 269v3M475 246v2M333 163v1M280 156v5M722 124v1M779 105v2M119 94v2M471 253v2M762 137v2M156 98v2M454 286v1M378 146v3M775 112v2M523 155v2M396 201v3M467 261v2M273 127v4M302 193v1M276 140v4M340 156v1M31 223v2M286 181v5M506 187v2M790 96v3M450 293v2M382 158v3M519 162v2M61 188v2M289 194v4M797 113v2M502 195v2M12 188v2M515 170v2M57 195v2M498 202v2M85 149v2M283 169v4M550 104v2M53 201v2M113 104v2M262 81v4M300 195v1M774 114v2M81 156v2M321 174v1M433 315v3M466 263v2M359 137v1M416 262v4M546 111v2M109 110v2M169 125v2M0 204v1M793 104v2M449 295v2M419 272v3M137 65v2M77 162v2M402 219v3M462 270v2M147 78v3M105 117v2M-4 210v2M405 229v3M388 176v3M514 172v2M800 120v3M307 188v1M133 71v2M56 197v1M391 186v3M497 204v2M155 95v3M328 167v1M374 133v3M261 77v4M272 123v4M510 180v1M480 236v2M807 137v2M377 142v4M129 78v2M549 106v2M52 203v2M493 212v2M250 76v1M33 227v2M227 92v1M165 117v2M562 81v2M532 138v2M80 158v1M476 244v2M545 113v2M108 112v2M314 181v1M140 64v2M489 219v2M769 124v2M528 145v2M76 164v2M472 251v2M268 106v4M541 121v2M281 161v4M326 169v1M132 73v2M428 299v3M25 212v2M456 282v2M22 207v2M429 302v4M342 154v1M397 204v3M492 214v2M264 89v5M415 259v3M383 161v3M792 101v3M401 216v3M91 140v1M544 115v2M488 221v2M387 173v3M799 118v2M645 60v1M349 147v1M70 174v1M540 123v2M764 133v2M373 130v3M271 119v4M806 134v3M163 112v3M536 130v2M66 180v2M759 143v2M588 32v2M94 135v1M221 96v1M142 68v2M571 64v2M356 140v1M294 201v1M90 141v2M421 278v3M487 223v2M353 143v1M9 190v1M640 56v1M567 72v1M149 83v2M368 128v1M118 96v1M424 287v3M20 203v2M407 235v3M23 209v1M427 296v3M393 192v3M24 210v2M410 244v3M114 102v2M5 196v2M535 132v2M379 149v3M518 164v2M758 145v2M360 136v1M587 34v2M1 202v2M531 140v2M771 120v2M243 81v1M570 66v2M313 182v1M714 117v1M290 198v4M725 126v1M736 135v1M583 41v2M624 43v1M446 301v2M89 143v2M269 110v4M13 190v2M636 53v1M16 196v2M566 73v2M804 130v2M231 89v1M579 49v2M162 110v2M430 306v3M811 146v2M320 175v1M177 126v1M265 94v4M477 242v2M757 147v2M434 318v3M530 142v2M770 122v2M709 113v1M104 119v1M-5 212v1M720 122v1M420 275v3M513 174v2M148 81v2M582 43v2M445 303v2M212 102v1M526 149v2M766 130v1M100 125v2M327 168v1M565 75v2M509 181v2M158 102v2M392 189v3M578 51v2M128 80v1M274 131v4M441 310v2M275 135v5M561 83v2M288 190v4M574 58v2M124 86v2M437 318v2M334 162v1M704 109v1M656 69v1M715 118v1M716 119v1M668 79v1M14 192v2M592 24v2M440 312v2M788 92v2M36 229v2M338 158v1M171 130v1M436 320v1M556 92v2M795 108v3M652 66v1M711 115v1M663 75v1M674 84v1M539 125v1M802 125v2M10 188v2M484 229v2M376 139v3M345 151v1M157 100v2M809 142v2M110 109v1M287 186v4M32 225v2M164 115v2M35 231v1M138 64v1M463 269v1M293 202v1M-1 205v2M748 145v1M647 62v1M658 71v1M352 144v1M659 72v1M305 190v1M551 102v2M4 198v1M483 231v2M228 91v1M263 85v4M547 109v2M50 206v2M787 90v1M479 238v2M794 106v2M743 141v1M46 213v1M385 167v3M312 183v1M653 67v1M371 125v1M665 77v1M606 28v1M74 167v2M389 179v3M801 123v2M458 278v2M375 136v3M319 176v1M34 229v2M166 119v2M49 208v2M786 92v1M727 128v1M738 137v1M335 161v1M141 66v2M144 72v2M739 138v1M461 272v2M750 147v1M45 214v2M782 99v2M601 24v1M234 87v1M765 131v2M426 293v3M151 87v2M347 149v1M457 280v2M41 221v2M412 250v3M69 175v2M453 287v2M398 207v3M505 189v2M65 182v2M339 157v1M384 164v3M354 142v1M291 202v1M291 204v1M596 20v1M501 197v1M781 101v2M44 216v2M608 30v1M553 98v2M6 195v1M777 109v2M84 151v2M760 141v2M361 135v1M773 116v2M452 289v2M299 196v1M63 185v2M504 191v2M59 192v1M404 226v3M500 198v2M150 85v2M87 146v2M153 91v2M425 290v3M390 182v4M260 73v4M306 189v1M552 100v2M55 198v2M496 206v2M365 131v1M83 153v1M411 247v3M160 106v2M202 109v1M548 108v1M51 205v1M318 177v1M79 159v2M447 299v2M527 147v2M443 306v2M325 170v1M82 154v2M478 240v2M417 266v3M279 152v4M543 117v2M403 222v4M662 74v1M184 121v1M406 232v3M522 157v2M159 104v2M591 26v2M125 84v2M557 91v1M93 136v2M121 91v2M657 70v1M15 194v2M18 199v2M346 150v1M525 151v2M117 97v2M8 191v2M282 165v4M40 223v1M68 177v2M343 153v1M577 53v2M521 159v2M761 139v2M789 94v2M64 184v1M573 60v2M517 166v2M92 138v2M218 98v1M278 148v4M796 111v2M742 140v1M60 190v2M569 68v2M350 146v1M468 259v2M520 161v1M298 197v1M357 139v1M267 102v4M756 149v2M726 127v1M516 168v2M146 76v2M737 136v1M143 70v2M599 22v1M568 70v2M499 200v2M600 23v1M103 120v2M611 32v1M54 200v1M564 77v2M364 132v1M224 94v1M560 85v2M317 178v1M78 161v1M721 123v1M732 132v1M106 115v2M733 133v1M685 93v1M744 142v1M134 70v1M595 19v1M372 127v3M259 70v1M259 72v1M102 122v1M130 76v2M324 171v1M205 107v1M808 139v3M563 79v2M98 128v2M126 83v1M167 121v2M559 87v2M266 98v4M679 88v1M542 119v2M145 74v2M728 129v1M680 89v1M122 89v2M691 98v1M474 248v2M555 94v2M73 169v2M594 20v2M538 126v2M409 241v3M778 107v2M152 89v2M101 123v2M470 255v2M395 198v3M26 214v2M590 28v2M97 130v2M381 155v3M297 198v1M664 76v1M675 85v1M686 94v1M215 100v1M88 145v1M676 86v1M116 99v2M366 130v1M537 128v2M304 191v1M469 257v2M589 30v2M112 106v1M285 177v4M3 199v2M465 265v2M435 322v1M585 37v2M448 297v2M670 81v1M622 41v1M136 67v1M422 281v3M671 82v1M682 91v1M634 51v1M581 45v2M311 184v1M154 93v2M408 238v3M115 101v1M28 218v2M394 195v3M111 107v2M380 152v3M2 201v1M772 118v2M464 267v2M139 62v1M755 151v1M584 39v2M-2 207v2M768 126v2M618 38v1M629 47v1M460 274v2M270 114v5M135 68v2M209 104v1M580 47v2M495 208v2M439 314v2M414 256v3M431 309v3M491 216v1M791 99v2M400 213v3M751 148v1M602 25v1M332 164v1M613 34v1M798 115v3M767 128v2M625 44v1M442 308v2M763 135v2M494 210v2M438 316v2M336 160v1M490 217v2M698 104v1M351 145v1M473 250v1M58 193v2M486 225v2M423 284v3M19 201v2M37 227v2M413 253v3M534 134v2M358 138v1M296 199v1M399 210v3M693 100v1M355 141v1M705 110v1M11 187v1M485 227v2M803 127v3M776 111v1M7 193v2M303 192v1M161 108v2M810 144v2M362 134v1M249 77v1M481 234v2M785 93v2M533 136v2M168 123v2M107 114v1M529 144v1M17 198v1M310 185v1M512 176v2M369 127v1M131 75v1M183 122v1M322 173v1M508 183v2M784 95v2M-3 209v1M386 170v3M459 276v2M329 166v1M71 172v2M511 178v2M67 179v1M572 62v2M193 115v1M240 83v1M669 80v1M42 219v2M27 216v2M30 221v2M586 36v1M174 128v1M558 89v2M120 93v1M754 150v1M605 27v1M616 36v1M617 37v1M554 96v2M628 46v1M309 186v1M199 111v1M246 79v1M295 200v1M316 179v1M749 146v1M702 107v1M612 33v1M623 42v1M444 305v1M180 124v1M29 220v1M323 172v1M48 210v1M696 102v1M745 143v1M697 103v1M708 112v1M719 121v1M607 29v1M619 39v1M21 205v2M593 22v2M256 72v1M72 171v1M576 55v1M337 159v1M681 90v1M47 211v2M692 99v1M703 108v1M190 117v1M237 85v1M780 103v2M805 132v2M38 226v1M344 152v1M455 284v2M341 155v1M62 187v1M687 95v1M639 55v1M688 96v1M699 105v1M651 65v1M348 148v1M86 148v1M363 133v1M482 233v1M301 194v1M196 113v1M635 52v1M646 61v1M308 187v1M367 129v1M315 180v1M731 131v1M630 48v1M641 57v1M631 49v1M642 58v1M206 106v1M253 74v1M96 132v1M75 166v1M648 63v1M43 218v1M187 119v1" transform="translate(.5 0)" stroke="#4b0082" fill="none" shape-rendering="crispEdges"/>
</g>
<g clip-path="url(#ci)">
<g shape-rendering="crispEdges"><rect x="3" y="348" width="896" height="1" fill="#000"/><rect x="3" y="392" width="896" height="1" fill="#000"/></g>
<path d="M219 365h2M483 365h2M683 365h2M778 365h2M851 365h5M350 377h2M19 367h2M223 367h2M479 367h2M680 367h2M687 367h2M174 361h2M630 361h4M763 361h3M188 351h2M240 375h4M464 375h2M667 375h3M726 379h4M733 379h3M808 386h2M172 362h2M490 362h2M604 362h2M634 362h6M766 362h4M156 355h2M195 355h3M210 355h2M25 370h2M302 370h4M310 370h4M320 370h12M363 370h3M378 370h2M676 370h2M36 359h2M150 359h2M177 359h2M262 359h2M608 359h2M616 359h2M870 359h4M221 366h2M481 366h2M685 366h2M856 366h4M299 371h3M314 371h6M74 342h2M504 342h2M514 342h6M58 347h3M485 364h3M774 364h4M507 340h3M550 340h4M560 340h13M747 397h2M730 378h3M158 354h2M193 354h2M114 334h2M394 349h2M251 341h2M510 341h4M520 341h12M554 341h6M153 357h2M202 357h4M611 357h2M283 405h5M699 405h9M803 389h3M613 358h3M867 358h3M488 363h2M640 363h4M770 363h4M40 356h2M198 356h4M206 356h4M235 376h5M466 376h2M790 376h2M820 376h2M21 368h2M225 368h2M370 368h4M477 368h2M689 368h2M547 339h3M573 339h3M451 374h5M461 374h3M670 374h2M23 369h2M306 369h4M366 369h4M374 369h4M475 369h2M53 345h3M64 345h2M500 345h2M230 372h2M673 372h2M107 337h2M578 337h4M147 360h3M618 360h12M658 360h2M874 360h2M403 401h2M411 380h2M723 380h3M736 380h2M56 346h2M61 346h3M436 387h2M456 373h5M470 373h2M794 373h2M824 373h2M576 338h2M161 352h2M190 352h2M288 404h4M403 400h2M51 344h2M66 344h4M109 336h3M582 336h4M70 343h4M835 343h2M738 381h2M814 381h2M426 403h2M440 384h2M112 335h2M586 335h2" transform="translate(0 .5)" stroke="#808080" fill="none" shape-rendering="crispEdges"/><path d="M31 365v2M418 392v2M84 377v2M274 378v2M338 381v2M252 342v1M232 373v1M829 362v4M87 382v2M243 373v2M296 382v4M335 376v2M99 373v3M833 348v4M233 374v1M402 393v7M654 367v2M468 375v1M698 399v4M248 351v4M695 385v5M396 352v7M710 402v1M403 402v2M278 389v3M761 366v4M828 366v4M837 344v1M292 398v4M138 343v1M786 377v2M537 348v2M406 393v3M601 359v2M756 383v3M653 369v2M399 373v6M119 338v1M410 381v3M598 353v2M787 379v1M244 369v4M717 391v2M662 365v2M760 370v3M297 378v4M77 349v4M844 351v2M665 371v2M540 349v2M5 341v3M646 367v1M591 341v2M780 366v2M847 357v2M80 362v4M444 381v1M594 346v2M783 372v1M813 382v1M353 379v1M104 349v5M334 375v1M417 390v2M83 374v3M94 383v2M755 386v2M255 347v2M354 380v1M817 379v1M806 388v1M472 372v1M713 398v1M692 372v4M421 396v2M536 347v1M414 384v2M183 354v1M247 355v5M141 348v2M432 393v2M832 352v3M801 385v2M18 366v1M411 379v1M384 362v1M498 347v2M277 386v3M131 334v1M8 349v2M751 392v2M27 371v1M782 370v2M30 367v1M137 341v2M228 370v1M502 344v1M691 369v3M103 354v5M740 383v2M295 386v4M398 366v7M798 378v2M34 361v2M506 341v1M661 363v2M273 376v2M76 345v4M862 363v1M380 368v2M590 340v1M748 396v1M38 358v1M395 348v1M395 350v2M333 373v2M251 339v2M361 373v1M405 396v3M102 359v5M42 355v1M164 352v2M763 362v1M291 402v2M657 362v2M409 384v3M448 377v1M721 383v2M213 357v2M356 379v2M348 375v1M600 357v2M800 383v2M664 369v2M694 381v4M603 363v1M250 342v4M7 346v3M349 376v1M98 376v2M435 388v1M341 381v1M50 345v1M645 365v2M543 345v1M720 385v2M589 338v2M597 351v2M106 340v5M649 370v2M672 373v1M831 355v4M126 339v1M254 345v2M45 351v2M497 349v2M337 379v2M420 395v1M97 378v2M431 395v2M401 386v7M383 363v2M79 357v5M392 351v1M413 382v2M101 364v4M716 393v2M279 392v3M759 373v3M416 388v2M82 370v4M697 394v5M11 356v2M493 357v2M344 377v1M33 363v1M359 375v2M387 357v1M785 375v2M607 360v1M93 385v2M599 355v2M539 351v1M754 388v2M129 336v1M797 376v2M246 360v4M474 370v1M781 368v2M758 376v3M656 364v2M397 359v7M593 344v2M762 363v3M185 352v1M596 349v2M492 359v2M660 361v2M272 374v2M648 369v1M122 341v1M693 376v5M709 403v1M712 399v1M147 361v1M234 375v1M652 371v2M78 353v4M212 356v1M412 381v1M163 351v1M789 377v1M298 374v4M423 399v1M542 346v2M133 336v2M750 394v1M747 398v1M719 387v2M838 345v1M430 397v2M44 353v1M439 385v1M588 336v2M839 346v1M819 377v1M796 374v2M408 387v3M282 401v3M546 340v2M120 339v1M850 363v2M400 379v7M663 367v2M275 380v3M294 390v4M443 382v1M121 340v1M592 343v1M715 395v2M696 390v4M245 364v5M404 399v1M124 341v1M415 386v2M155 356v1M166 355v2M355 381v1M386 358v2M678 369v1M407 390v3M105 345v4M753 390v1M10 354v2M293 394v4M682 366v1M864 361v1M830 359v3M602 361v2M47 349v1M746 395v2M496 351v2M132 335v1M215 360v1M100 368v5M861 364v1M834 344v4M799 380v3M6 344v2M229 371v1M249 346v5M647 368v1M823 374v1M595 348v1M784 373v2M281 398v3M271 371v3M450 375v1M358 377v1M85 379v2M3 337v2M757 379v4M810 385v1M422 398v1M264 360v1M434 389v2M214 359v1M165 354v1M343 378v2M146 358v2M92 387v2M176 360v1M268 365v2M81 366v4M143 352v2M469 374v1M545 342v1M180 357v1M128 337v1M711 400v2M849 361v2M96 380v2M385 360v2M257 351v2M260 357v1M795 372v1M659 359v1M346 375v1M699 403v2M389 355v1M168 358v2M429 399v2M651 373v1M495 353v2M32 364v1M192 353v1M13 359v2M35 360v1M169 360v1M745 393v2M445 380v1M9 351v3M187 350v1M655 366v1M135 339v1M116 335v1M491 361v1M650 372v1M841 348v1M433 391v2M256 349v2M499 346v1M866 359v1M718 389v2M123 342v1M541 348v1M270 369v2M533 343v2M544 343v2M145 356v2M425 401v2M39 357v1M12 358v1M107 338v2M43 354v1M744 391v2M714 397v1M134 338v1M217 362v2M812 383v1M259 355v2M658 361v1M280 395v3M840 347v1M848 359v2M722 381v2M428 401v2M4 339v2M494 355v2M357 378v1M503 343v1M182 355v1M49 346v2M863 362v1M269 367v2M793 374v1M532 342v1M144 354v2M424 400v1M179 358v1M95 382v1M816 380v1M391 352v2M258 353v2M360 374v1M299 372v2M90 387v2M342 380v1M345 376v1M91 389v1M167 357v1M752 391v1M170 361v2M130 335v1M265 361v1M14 361v1M171 363v1M340 382v1M46 350v1M276 383v3M266 362v1M15 362v1M152 358v1M216 361v1M743 389v2M827 370v2M118 337v1M86 381v1M89 385v2M447 378v1M352 378v1M29 368v1M75 343v2M803 390v1M186 351v1M473 371v1M807 387v1M427 404v1M140 346v2M675 371v1M382 365v1M667 376v1M125 340v1M227 369v1M679 368v1M846 355v2M708 404v1M261 358v1M788 378v1M843 350v1M606 361v1M835 342v1M811 384v1M438 386v1M535 346v1M218 364v1M610 358v1M742 387v2M136 340v1M442 383v1M117 336v1M139 344v2M390 354v1M184 353v1M283 404v1M181 356v1M842 349v1M644 364v1M28 369v2M739 382v1M845 353v2M48 348v1M865 360v1M749 395v1M792 375v1M332 371v2M534 345v1M253 343v2M336 378v1M419 394v1M818 378v1M267 363v2M142 350v2M381 366v2M802 387v2M822 375v1M362 371v2M17 364v2M666 373v2M449 376v1M741 385v2M826 372v1M88 384v1M339 383v1M127 338v1M160 353v1M860 365v1M347 374v1M393 350v1M538 350v1M16 363v1M446 379v1M388 356v1" transform="translate(.5 0)" stroke="#808080" fill="none" shape-rendering="crispEdges"/>
<path d="M258 364h6M511 364h2M672 364h6M866 364h3M320 384h6M445 384h3M473 384h2M728 384h2M770 384h3M26 354h14M74 354h4M98 354h3M133 354h2M194 354h6M639 354h2M285 370h3M402 370h6M416 370h5M500 370h2M701 370h2M851 370h2M277 367h3M505 367h2M688 367h6M858 367h3M313 382h2M330 382h3M441 382h2M477 382h2M723 382h2M776 382h2M315 383h5M326 383h4M443 383h2M475 383h2M725 383h3M773 383h3M299 376h2M346 376h4M431 376h2M489 376h2M713 376h2M792 376h2M832 376h6M576 341h32M454 387h4M464 387h5M736 387h2M760 387h2M282 369h3M408 369h8M502 369h2M698 369h3M853 369h3M12 362h2M250 362h4M662 362h4M872 362h2M152 345h2M168 345h5M546 345h4M618 345h3M293 373h2M390 373h4M425 373h2M495 373h2M707 373h2M802 373h14M845 373h2M568 342h8M608 342h5M301 377h3M344 377h2M433 377h2M487 377h2M789 377h3M246 361h4M516 361h2M658 361h4M874 361h2M19 357h2M50 357h6M64 357h5M106 357h6M125 357h3M230 357h4M645 357h3M450 386h4M469 386h2M733 386h3M762 386h4M306 379h3M338 379h3M436 379h2M483 379h2M718 379h2M784 379h2M290 372h3M394 372h4M423 372h2M497 372h2M705 372h2M847 372h2M311 381h2M333 381h3M479 381h2M721 381h2M778 381h3M297 375h2M350 375h4M376 375h8M429 375h2M491 375h2M711 375h2M794 375h4M824 375h8M838 375h4M280 368h2M694 368h4M856 368h2M56 358h8M112 358h13M234 358h4M521 358h2M648 358h2M139 351h2M186 351h3M533 351h2M633 351h2M21 356h3M46 356h4M69 356h3M104 356h2M128 356h2M208 356h22M524 356h2M643 356h2M448 385h2M471 385h2M730 385h3M766 385h4M143 349h2M179 349h3M537 349h2M629 349h2M82 352h12M137 352h2M189 352h3M531 352h2M635 352h2M304 378h2M341 378h3M485 378h2M716 378h2M786 378h3M288 371h2M398 371h4M421 371h2M703 371h2M849 371h2M154 344h14M550 344h4M616 344h2M242 360h4M518 360h2M654 360h4M554 343h14M613 343h3M141 350h2M182 350h4M535 350h2M631 350h2M295 374h2M354 374h22M384 374h6M427 374h2M493 374h2M709 374h2M798 374h4M816 374h8M842 374h3M147 347h2M175 347h2M541 347h3M624 347h2M458 388h6M738 388h6M757 388h3M254 363h4M513 363h2M666 363h6M869 363h3M149 346h3M173 346h2M544 346h2M621 346h3M264 365h8M509 365h2M678 365h4M864 365h2M24 355h2M40 355h6M72 355h2M101 355h3M130 355h3M200 355h8M526 355h2M641 355h2M78 353h4M94 353h4M135 353h2M192 353h2M529 353h2M637 353h2M309 380h2M336 380h2M438 380h2M481 380h2M781 380h3M145 348h2M177 348h2M539 348h2M626 348h3M272 366h5M507 366h2M682 366h6M861 366h3M744 389h13M16 359h2M238 359h4M650 359h4" transform="translate(0 .5)" stroke="#0000ff" fill="none" shape-rendering="crispEdges"/><path d="M720 380v1M523 357v1M14 361v1M9 365v1M5 370v1M8 366v1M504 368v1M435 378v1M18 358v1M715 377v1M7 367v2M3 372v1M4 371v1M499 371v1M6 369v1M10 364v1M528 354v1M11 363v1M520 359v1M15 360v1M515 362v1M440 381v1" transform="translate(.5 0)" stroke="#0000ff" fill="none" shape-rendering="crispEdges"/>
<path d="M354 377h11M464 377h2M806 377h2M765 380h2M811 380h17M337 373h2M376 373h4M474 373h4M776 373h2M752 386h4M236 366h2M253 366h3M388 366h2M403 366h2M664 366h2M304 389h2M445 389h2M44 362h2M230 362h2M263 362h2M395 362h2M645 362h3M872 362h2M737 385h2M744 385h8M756 385h2M240 369h2M247 369h2M384 369h2M410 369h2M490 369h2M672 369h2M678 369h4M686 369h4M783 369h2M792 369h2M256 365h2M390 365h2M401 365h2M661 365h3M243 371h2M333 371h2M482 371h4M779 371h2M796 371h2M126 341h2M528 341h5M570 341h4M596 341h2M99 370h9M245 370h2M323 370h10M486 370h4M674 370h4M690 370h2M781 370h2M794 370h2M739 384h5M758 384h2M298 391h3M440 391h2M160 350h2M52 356h2M182 356h4M192 356h8M216 356h2M619 356h2M856 356h5M454 383h2M124 342h2M144 342h2M523 342h5M533 342h3M566 342h4M598 342h2M208 354h5M616 354h2M171 357h11M218 357h3M621 357h2M850 357h6M861 357h2M301 390h3M442 390h3M710 390h2M71 344h2M147 344h2M519 344h2M538 344h6M552 344h8M601 344h2M28 360h2M226 360h2M267 360h5M627 360h13M843 360h2M867 360h2M3 347h9M153 347h2M606 347h2M35 364h5M233 364h2M258 364h3M399 364h2M650 364h11M449 387h2M734 387h2M350 376h4M365 376h3M466 376h3M772 376h2M804 376h2M296 392h2M437 392h3M73 343h2M521 343h2M536 343h2M544 343h8M560 343h6M461 378h3M769 378h2M129 339h2M140 339h2M578 339h6M590 339h4M22 355h2M54 355h2M168 355h2M186 355h6M200 355h8M213 355h3M12 348h2M64 348h2M155 348h2M512 348h2M574 340h4M594 340h2M291 394h2M433 394h2M715 394h3M249 368h2M408 368h2M669 368h3M682 368h4M785 368h2M789 368h3M30 361h2M228 361h2M265 361h2M272 361h4M640 361h5M869 361h3M17 351h2M60 351h2M162 351h2M508 351h2M612 351h2M459 379h2M767 379h2M809 379h2M344 375h6M368 375h2M469 375h3M221 358h3M623 358h2M848 358h2M863 358h2M761 382h2M763 381h2M33 363h2M40 363h4M261 363h2M393 363h2M397 363h2M648 363h2M874 363h2M131 338h9M584 338h6M48 359h2M224 359h2M625 359h2M845 359h3M865 359h2M69 345h2M149 345h2M517 345h2M335 372h2M380 372h2M478 372h4M798 372h2M339 374h5M370 374h6M472 374h2M801 374h2M251 367h2M405 367h3M666 367h3M787 367h2M306 388h2M447 388h2M732 388h2M429 396h2M722 396h2M57 353h2M293 393h3M435 393h2M726 393h2M14 349h2M157 349h3M609 349h2M67 346h2M151 346h2M515 346h2M604 346h2M431 395h2M718 395h4M164 352h2M427 397h2" transform="translate(0 .5)" stroke="#ff0000" fill="none" shape-rendering="crispEdges"/><path d="M420 381v2M497 363v1M800 373v1M315 380v1M694 373v1M426 394v2M275 362v1M452 385v1M107 369v1M81 350v1M495 365v1M108 367v2M281 375v3M778 372v1M285 384v2M705 385v1M494 366v1M510 350v1M611 350v1M76 343v2M832 372v2M319 375v1M423 387v3M279 370v3M413 371v2M312 383v1M115 353v2M113 357v2M289 390v2M82 351v2M242 370v1M514 347v1M707 387v1M46 361v1M714 393v1M283 380v2M696 375v1M310 385v1M831 374v1M600 343v1M282 378v2M421 383v2M692 371v1M121 345v2M50 358v1M79 347v2M842 361v1M425 392v2M736 386v1M142 340v1M422 385v2M62 350v1M170 356v1M117 350v2M63 349v1M322 371v1M708 388v1M277 365v3M20 353v1M280 373v2M111 361v2M66 347v1M458 380v1M709 389v1M496 364v1M318 376v1M503 356v2M703 382v2M693 372v1M506 353v1M419 379v2M287 387v2M699 378v1M456 382v1M317 377v2M839 364v1M457 381v1M840 363v1M502 358v1M56 354v1M284 382v2M21 354v1M392 364v1M109 365v2M828 378v2M695 374v1M89 360v1M232 363v1M313 382v1M276 363v2M838 365v1M278 368v2M288 389v1M239 368v1M382 371v1M706 386v1M383 370v1M834 369v2M311 384v1M114 355v2M90 361v1M836 367v1M77 345v1M492 368v1M618 355v1M830 375v2M603 345v1M833 371v1M701 380v1M386 368v1M417 376v2M16 350v1M697 376v1M427 396v1M416 375v1M112 359v2M418 378v1M803 375v1M424 390v2M87 357v2M321 372v2M78 346v1M97 368v1M507 352v1M290 392v2M93 364v1M88 359v1M128 340v1M725 394v1M698 377v1M511 349v1M731 389v1M286 386v1M238 367v1M451 386v1M724 395v1M110 363v2M47 360v1M700 379v1M837 366v1M94 365v1M25 357v1M414 373v1M608 348v1M493 367v1M120 347v1M26 358v1M500 360v1M415 374v1M387 367v1M166 353v1M95 366v1M615 353v1M116 352v1M118 349v1M760 383v1M498 362v1M91 362v1M808 378v1M499 361v1M85 355v1M27 359v1M771 377v1M309 386v1M86 356v1M702 381v1M80 349v1M775 374v1M308 387v1M92 363v1M146 343v1M712 391v1M774 375v1M24 356v1M314 381v1M98 369v1M730 390v1M235 365v1M412 370v1M505 354v1M713 392v1M83 353v1M728 392v1M614 352v1M729 391v1M51 357v1M122 344v1M123 343v1M501 359v1M504 355v1M32 362v1M829 377v1M84 354v1M119 348v1M59 352v1M75 342v1M19 352v1M835 368v1M320 374v1M167 354v1M96 367v1M143 341v1M316 379v1M841 362v1M704 384v1M453 384v1" transform="translate(.5 0)" stroke="#ff0000" fill="none" shape-rendering="crispEdges"/>
</g>
<g shape-rendering="crispEdges" fill="#000">
<rect x="2" y="2" width="898" height="1"/>
<rect x="2" y="2" width="1" height="329"/>
<rect x="2" y="330" width="898" height="1"/>
<rect x="899" y="2" width="1" height="406"/>
<rect x="2" y="332" width="898" height="1"/>
<rect x="2" y="332" width="1" height="76"/>
<rect x="2" y="407" width="899" height="1"/>
<rect x="900" y="30" width="2" height="1"/>
<rect x="900" y="63" width="2" height="1"/>
<rect x="900" y="96" width="2" height="1"/>
<rect x="900" y="129" width="2" height="1"/>
<rect x="900" y="162" width="2" height="1"/>
<rect x="900" y="195" width="2" height="1"/>
<rect x="900" y="228" width="2" height="1"/>
<rect x="900" y="261" width="2" height="1"/>
<rect x="900" y="294" width="2" height="1"/>
<rect x="900" y="327" width="2" height="1"/>
<rect x="900" y="334" width="1" height="1"/>
<rect x="3" y="408" width="1" height="3"/>
<rect x="67" y="408" width="1" height="3"/>
<rect x="131" y="408" width="1" height="3"/>
<rect x="195" y="408" width="1" height="3"/>
<rect x="259" y="408" width="1" height="3"/>
<rect x="323" y="408" width="1" height="3"/>
<rect x="387" y="408" width="1" height="3"/>
<rect x="451" y="408" width="1" height="3"/>
<rect x="515" y="408" width="1" height="3"/>
<rect x="579" y="408" width="1" height="3"/>
<rect x="643" y="408" width="1" height="3"/>
<rect x="707" y="408" width="1" height="3"/>
<rect x="771" y="408" width="1" height="3"/>
<rect x="835" y="408" width="1" height="3"/>
<text x="903" y="404" font-family="'Liberation Sans', sans-serif" font-size="9.7px" stroke="#000" stroke-width="0.15">0</text>
<rect x="901" y="102" width="38" height="11"/>
<rect x="901" y="343" width="12" height="11"/>
<rect x="901" y="387" width="12" height="11"/>
</g>
<g font-family="'Liberation Sans', 'Noto Sans CJK JP', sans-serif" font-size="9.7px" stroke="#000" stroke-width="0.15" fill="#000">
<path d="M6 9 L13 9 L9.5 13 Z" fill="#000"/>
<text x="17.8" y="13.8" textLength="56" lengthAdjust="spacing" xml:space="preserve">BTCJPY,M15</text>
<text x="80.5" y="13.8" textLength="29.5" lengthAdjust="spacing" xml:space="preserve">752715</text>
<text x="113" y="13.8" textLength="29.5" lengthAdjust="spacing" xml:space="preserve">752822</text>
<text x="146.4" y="13.8" textLength="29.5" lengthAdjust="spacing" xml:space="preserve">752377</text>
<text x="178.9" y="13.8" textLength="29.5" lengthAdjust="spacing" xml:space="preserve">752555</text>
<text x="7" y="26.8" textLength="94" lengthAdjust="spacing" xml:space="preserve">MA_Short=752782.48,</text>
<text x="108.8" y="26.8" textLength="88.2" lengthAdjust="spacing" xml:space="preserve">Average=752218.29,</text>
<text x="203.6" y="26.8" textLength="88.2" lengthAdjust="spacing" xml:space="preserve">MA_Long=751654.09</text>
<text x="905" y="33.9" textLength="30" lengthAdjust="spacing" xml:space="preserve">756266</text>
<text x="905" y="66.9" textLength="30" lengthAdjust="spacing" xml:space="preserve">754691</text>
<text x="905" y="99.9" textLength="30" lengthAdjust="spacing" xml:space="preserve">753071</text>
<text x="905" y="132.9" textLength="30" lengthAdjust="spacing" xml:space="preserve">751496</text>
<text x="905" y="165.9" textLength="30" lengthAdjust="spacing" xml:space="preserve">749876</text>
<text x="905" y="198.9" textLength="30" lengthAdjust="spacing" xml:space="preserve">748301</text>
<text x="905" y="231.9" textLength="30" lengthAdjust="spacing" xml:space="preserve">746726</text>
<text x="905" y="264.9" textLength="30" lengthAdjust="spacing" xml:space="preserve">745106</text>
<text x="905" y="297.9" textLength="30" lengthAdjust="spacing" xml:space="preserve">743531</text>
<text x="905" y="330.9" textLength="30" lengthAdjust="spacing" xml:space="preserve">741956</text>
<text x="905" y="110.9" textLength="30" lengthAdjust="spacing" fill="#fff" stroke="#fff" xml:space="preserve">752555</text>
<text x="903.3" y="342.9" textLength="14.7" lengthAdjust="spacing" xml:space="preserve">100</text>
<text x="902.2" y="351.9" textLength="9.6" lengthAdjust="spacing" fill="#fff" stroke="#fff" xml:space="preserve">80</text>
<text x="902.2" y="395.9" textLength="9.6" lengthAdjust="spacing" fill="#fff" stroke="#fff" xml:space="preserve">20</text>
<text x="1.8" y="419.8" textLength="52.3" lengthAdjust="spacing" xml:space="preserve">30 Sep 2018</text>
<text x="65.8" y="419.8" textLength="55.5" lengthAdjust="spacing" xml:space="preserve">30 Sep 17:50</text>
<text x="129.8" y="419.8" textLength="55.5" lengthAdjust="spacing" xml:space="preserve">30 Sep 19:50</text>
<text x="193.8" y="419.8" textLength="55.5" lengthAdjust="spacing" xml:space="preserve">30 Sep 21:50</text>
<text x="257.8" y="419.8" textLength="55.5" lengthAdjust="spacing" xml:space="preserve">30 Sep 23:50</text>
<text x="321.8" y="419.8" textLength="49.2" lengthAdjust="spacing" xml:space="preserve">1 Oct 01:50</text>
<text x="385.8" y="419.8" textLength="49.2" lengthAdjust="spacing" xml:space="preserve">1 Oct 03:50</text>
<text x="449.8" y="419.8" textLength="49.2" lengthAdjust="spacing" xml:space="preserve">1 Oct 05:50</text>
<text x="513.8" y="419.8" textLength="49.2" lengthAdjust="spacing" xml:space="preserve">1 Oct 07:50</text>
<text x="577.8" y="419.8" textLength="49.2" lengthAdjust="spacing" xml:space="preserve">1 Oct 09:50</text>
<text x="641.8" y="419.8" textLength="49.2" lengthAdjust="spacing" xml:space="preserve">1 Oct 11:50</text>
<text x="705.8" y="419.8" textLength="49.2" lengthAdjust="spacing" xml:space="preserve">1 Oct 13:50</text>
<text x="769.8" y="419.8" textLength="49.2" lengthAdjust="spacing" xml:space="preserve">1 Oct 15:50</text>
<text x="833.8" y="419.8" textLength="49.2" lengthAdjust="spacing" xml:space="preserve">1 Oct 17:50</text>
<text x="7.8" y="345.2" font-size="8.4px" stroke="#000" stroke-width="0.35">相場塾</text>
<text x="36.6" y="344.8" textLength="50" lengthAdjust="spacing" xml:space="preserve">STO(13,6,4)</text>
<text x="90.5" y="344.8" textLength="33" lengthAdjust="spacing" xml:space="preserve">63.2136</text>
<text x="127.4" y="344.8" textLength="33" lengthAdjust="spacing" xml:space="preserve">59.9749</text>
<text x="163" y="344.8" textLength="33" lengthAdjust="spacing" xml:space="preserve">62.6074</text>
</g>
</svg>
</body></html>
